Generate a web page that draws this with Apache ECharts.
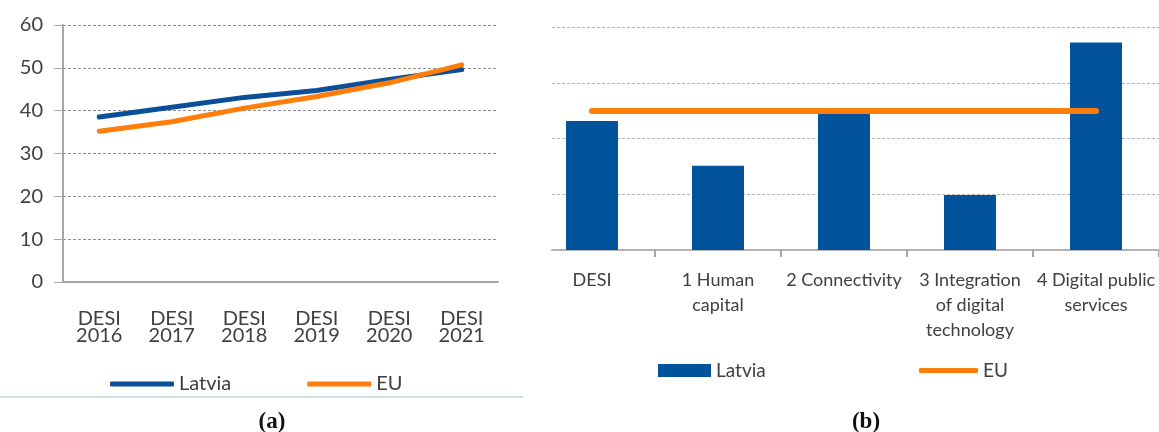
<!DOCTYPE html>
<html>
<head>
<meta charset="utf-8">
<script src="https://cdn.jsdelivr.net/npm/echarts@6/dist/echarts.min.js"></script>
<style>
    html, body { margin: 0; padding: 0; background: #fff; }
    #chart { width: 1159px; height: 432px; }
</style>
</head>
<body>
<div id="chart"></div>
<script>
// (a) DESI over time
var years = ['DESI 2016', 'DESI 2017', 'DESI 2018', 'DESI 2019', 'DESI 2020', 'DESI 2021'];
var latviaTrend = [38.5, 40.8, 43.1, 44.7, 47.3, 49.6];
var euTrend = [35.2, 37.4, 40.6, 43.3, 46.5, 50.7];

// (b) DESI dimensions
var dimensions = ['DESI', '1 Human\ncapital', '2 Connectivity', '3 Integration\nof digital\ntechnology', '4 Digital public\nservices'];
var latviaDims = [46.3, 30.2, 48.8, 19.7, 74.4];
var euDims = [49.9, 49.9, 49.9, 49.9, 49.9];

var BLUE = '#0b4f98';
var BAR = '#03529c';
var ORANGE = '#ff7d0a';
var TXT = '#404040';
var FONT = 'Lato';

var chart = echarts.init(document.getElementById('chart'));

function caption(letter, x) {
    return {
        text: '{p|(}{b|' + letter + '}{p|)}', left: x, top: 406, textAlign: 'center',
        textStyle: { rich: {
            p: { fontFamily: 'Liberation Serif', fontSize: 23, color: '#111' },
            b: { fontFamily: 'Liberation Serif', fontSize: 23, fontWeight: 'bold', color: '#111' }
        } }
    };
}

chart.setOption({
    animation: false,
    backgroundColor: '#fff',
    textStyle: { fontFamily: FONT, color: TXT },
    title: [caption('a', 267), caption('b', 861)],
    legend: [
        { data: ['Latvia', 'EU'], left: 105, top: 369, icon: 'roundRect', itemWidth: 64, itemHeight: 5, itemGap: 76,
          textStyle: { fontFamily: FONT, fontSize: 20, color: TXT } },
        { data: ['Latvia (b)'], left: 653, top: 356, icon: 'rect', itemWidth: 53, itemHeight: 13,
          formatter: function () { return 'Latvia'; },
          textStyle: { fontFamily: FONT, fontSize: 19, color: TXT } },
        { data: ['EU (b)'], left: 914, top: 356, icon: 'roundRect', itemWidth: 59, itemHeight: 5,
          formatter: function () { return 'EU'; },
          textStyle: { fontFamily: FONT, fontSize: 19, color: TXT } }
    ],
    grid: [
        { left: 63, top: 25, width: 435, height: 257 },
        { left: 529, top: 27, width: 636, height: 223 },
        { left: 552, top: 27, width: 620, height: 223 }
    ],
    xAxis: [
        { gridIndex: 0, type: 'category', data: years,
          axisLine: { lineStyle: { color: '#a6a6a6', width: 2 } },
          axisTick: { length: 6, lineStyle: { color: '#a6a6a6', width: 2 } },
          axisLabel: { margin: 28, fontSize: 20, lineHeight: 17, color: TXT, formatter: function (v) { return v.replace(' ', '\n'); } } },
        { gridIndex: 1, type: 'category', data: dimensions,
          axisLine: { show: true, lineStyle: { color: 'rgba(0,0,0,0)' } },
          axisTick: { show: true, length: 7, interval: function (i) { return i > 0; }, lineStyle: { color: '#a6a6a6', width: 2 } },
          axisLabel: { margin: 18, fontSize: 18, lineHeight: 25, color: TXT, interval: 0 } },
        { gridIndex: 2, type: 'value', min: 0, max: 1,
          axisLine: { show: true, lineStyle: { color: '#b4b4b4', width: 2 } },
          axisTick: { show: false }, axisLabel: { show: false }, splitLine: { show: false } }
    ],
    yAxis: [
        { gridIndex: 0, type: 'value', min: 0, max: 60, interval: 10,
          axisLine: { show: true, lineStyle: { color: '#a6a6a6', width: 2 } },
          axisTick: { show: true, length: 9, lineStyle: { color: '#a6a6a6' } },
          axisLabel: { margin: 20, fontSize: 20, color: TXT },
          splitLine: { lineStyle: { color: '#8f8f8f', type: [3, 2], width: 1 } } },
        { gridIndex: 1, type: 'value', min: 0, max: 80, interval: 20, show: false },
        { gridIndex: 2, type: 'value', min: 0, max: 80, interval: 20,
          axisLine: { show: false }, axisTick: { show: false }, axisLabel: { show: false },
          splitLine: { lineStyle: { color: '#b4b4b4', type: [3, 2], width: 1 } } }
    ],
    series: [
        { name: 'Latvia', type: 'line', xAxisIndex: 0, yAxisIndex: 0, data: latviaTrend,
          symbol: 'none', color: BLUE, lineStyle: { width: 5, color: BLUE, cap: 'round' }, z: 3 },
        { name: 'EU', type: 'line', xAxisIndex: 0, yAxisIndex: 0, data: euTrend,
          symbol: 'none', color: ORANGE, lineStyle: { width: 5, color: ORANGE, cap: 'round' }, z: 4 },
        { name: 'Latvia (b)', type: 'bar', xAxisIndex: 1, yAxisIndex: 1, data: latviaDims,
          barWidth: 52, color: BAR, itemStyle: { color: BAR } },
        { name: 'EU (b)', type: 'line', xAxisIndex: 1, yAxisIndex: 1, data: euDims,
          symbol: 'none', color: ORANGE, lineStyle: { width: 6, color: ORANGE, cap: 'round' }, z: 4 }
    ],
    graphic: [
        { type: 'line', shape: { x1: 0, y1: 397, x2: 523, y2: 397 }, style: { stroke: '#cfe0ea', lineWidth: 2 } }
    ]
});
</script>
</body>
</html>
